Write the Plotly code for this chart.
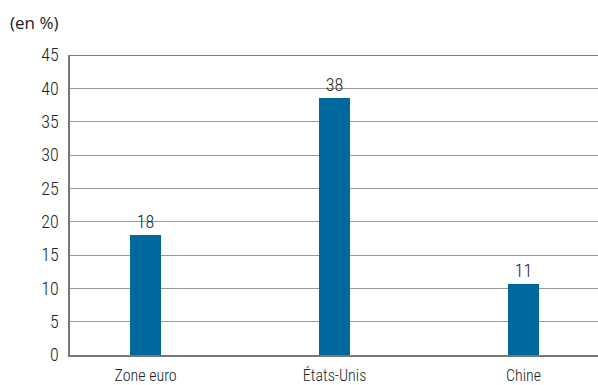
import plotly.graph_objects as go

categories = ["Zone euro", "États-Unis", "Chine"]
values = [18.0, 38.5, 10.7]
value_labels = ["18", "38", "11"]
y_ticks = [0, 5, 10, 15, 20, 25, 30, 35, 40, 45]

COND = "Roboto Condensed, DejaVu Sans Condensed, sans-serif"
BAR = "#00689D"
TXT = "#222222"

fig = go.Figure()
fig.add_trace(go.Bar(
    x=list(range(len(categories))),
    y=values,
    width=0.165,
    marker=dict(color=BAR, line=dict(width=0)),
    text=value_labels,
    textposition="outside",
    cliponaxis=False,
    textfont=dict(family=COND, size=18, color=TXT, weight=300),
))

fig.update_layout(
    width=598, height=385,
    margin=dict(l=70, r=0, t=55, b=28),
    paper_bgcolor="white",
    plot_bgcolor="white",
    showlegend=False,
    bargap=0,
    xaxis=dict(
        range=[-0.4, 2.394],
        tickmode="array",
        tickvals=list(range(len(categories))),
        ticktext=categories,
        tickfont=dict(family=COND, size=16, color=TXT, weight=300),
        showgrid=False,
        zeroline=False,
        showline=True,
        linecolor="#777777",
        linewidth=1.5,
        ticks="",
        ticklabelstandoff=5,
        fixedrange=True,
    ),
    yaxis=dict(
        range=[0, 45],
        tickmode="array",
        tickvals=y_ticks,
        ticktext=[str(v) for v in y_ticks],
        tickfont=dict(family=COND, size=18, color=TXT, weight=300),
        showgrid=True,
        gridcolor="#9a9a9a",
        gridwidth=1,
        zeroline=False,
        showline=True,
        linecolor="#777777",
        linewidth=1.5,
        ticks="",
        ticklabelstandoff=6,
        fixedrange=True,
    ),
    shapes=[dict(type="line", xref="paper", yref="y", x0=0, x1=1, y0=45, y1=45,
                 line=dict(color="#555555", width=1.5))],
)
fig.add_annotation(
    text="(en %)", xref="paper", yref="paper",
    x=(8 - 70) / 528, y=1 + (55 - 22) / 302, xanchor="left", yanchor="middle",
    showarrow=False,
    font=dict(family="Open Sans, Liberation Sans, sans-serif", size=17, color=TXT, weight=400),
)

fig.write_html("out.html")
